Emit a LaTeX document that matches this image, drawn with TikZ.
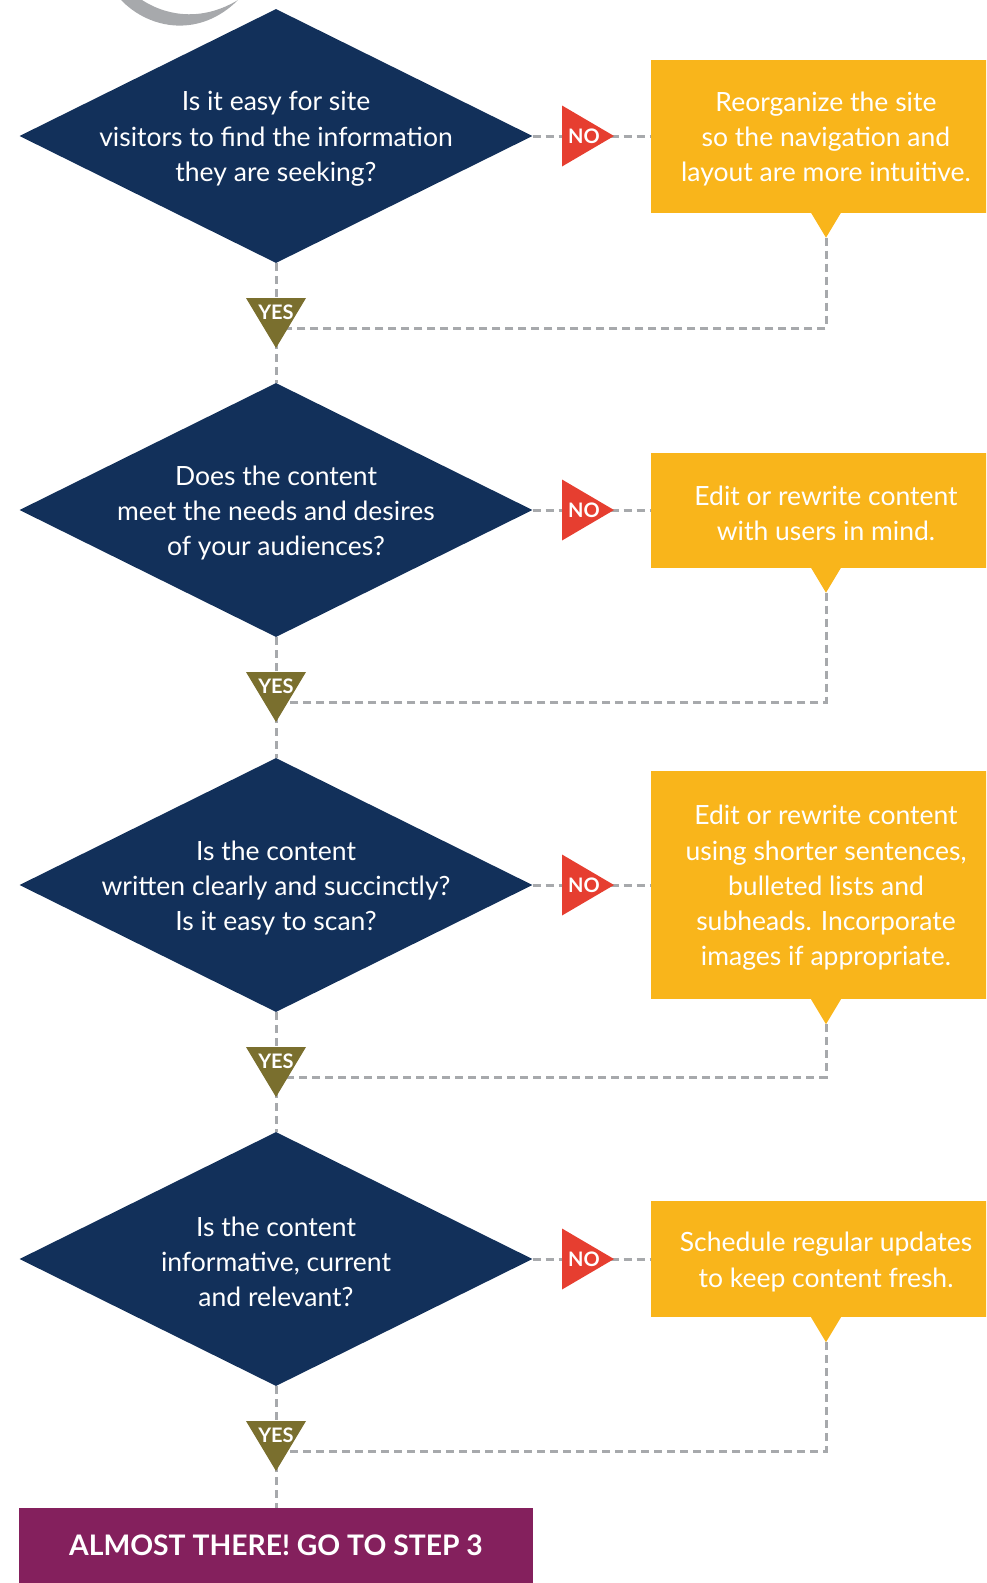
\documentclass[tikz,border=0pt]{standalone}
\usepackage{fontspec}
\setmainfont{Lato}
\usepackage{tikz}
\usetikzlibrary{shapes.geometric,backgrounds,calc}

\definecolor{navy}{HTML}{12305A}
\definecolor{gold}{HTML}{F9B51B}
\definecolor{nored}{HTML}{E63E30}
\definecolor{yesolive}{HTML}{7A6F2E}
\definecolor{plum}{HTML}{84205D}
\definecolor{dashgrey}{HTML}{A7A9AC}

\begin{document}
\begin{tikzpicture}[line cap=butt,line join=round,x=1pt,y=-1pt,
  question/.style={diamond,fill=navy,inner sep=0pt,minimum width=513pt,minimum height=254pt},
  qtext/.style={text=white,align=center,yshift=-3pt,font=\fontsize{26.5}{35.3}\selectfont},
  answer/.style={rectangle,fill=gold,text=white,align=center,inner sep=0pt,minimum width=350pt,font=\fontsize{26.5}{35.3}\selectfont},
  atext/.style={text=white,align=center,yshift=-3pt,font=\fontsize{26.5}{35.3}\selectfont},
  done/.style={rectangle,fill=plum,inner sep=0pt,minimum width=514pt,minimum height=78pt},
  donetext/.style={text=white,inner sep=0pt,font=\bfseries\fontsize{28.3}{32}\selectfont},
  marktext/.style={text=white,inner sep=0pt,font=\bfseries\fontsize{20}{22}\selectfont},
  link/.style={dashgrey,line width=3pt,dash pattern=on 8pt off 5pt}]

\useasboundingbox (0,0) rectangle (986,1583);
\clip (0,0) rectangle (986,1583);

% swoosh at the top
\fill[dashgrey] (121,0) .. controls (150,30) and (200,38) .. (238,0)
  .. controls (205,20) and (170,18) .. (142,0) -- cycle;

% questions
\node[question] (q1) at (276,136) {};
\node[question] (q2) at (276,510) {};
\node[question] (q3) at (276,885) {};
\node[question] (q4) at (276,1259) {};
\node[qtext] (t1) at (q1) {Is it easy for site\\visitors to find the information\\they are seeking?};
\node[qtext] (t2) at (q2) {Does the content\\meet the needs and desires\\of your audiences?};
\node[qtext] (t3) at (q3) {Is the content\\written clearly and succinctly?\\Is it easy to scan?};
\node[qtext] (t4) at (q4) {Is the content\\informative, current\\and relevant?};

% answers
\node[answer,minimum height=153pt] (a1) at (826,136) {};
\node[answer,minimum height=115pt] (a2) at (826,510) {};
\node[answer,minimum height=228pt] (a3) at (826,885) {};
\node[answer,minimum height=116pt] (a4) at (826,1259) {};
\node[atext] (s1) at (a1) {Reorganize the site\\so the navigation and\\layout are more intuitive.};
\node[atext] (s2) at (a2) {Edit or rewrite content\\with users in mind.};
\node[atext] (s3) at (a3) {Edit or rewrite content\\using shorter sentences,\\bulleted lists and\\subheads. Incorporate\\images if appropriate.};
\node[atext] (s4) at (a4) {Schedule regular updates\\to keep content fresh.};

% pointers under the answers
\fill[gold] ($(a1.south)+(-15,0)$) -- ($(a1.south)+(15,0)$) -- ($(a1.south)+(0,25)$) -- cycle;
\fill[gold] ($(a2.south)+(-15,0)$) -- ($(a2.south)+(15,0)$) -- ($(a2.south)+(0,25)$) -- cycle;
\fill[gold] ($(a3.south)+(-15,0)$) -- ($(a3.south)+(15,0)$) -- ($(a3.south)+(0,25)$) -- cycle;
\fill[gold] ($(a4.south)+(-15,0)$) -- ($(a4.south)+(15,0)$) -- ($(a4.south)+(0,25)$) -- cycle;
\coordinate (p1) at ($(a1.south)+(0,25)$);
\coordinate (p2) at ($(a2.south)+(0,25)$);
\coordinate (p3) at ($(a3.south)+(0,25)$);
\coordinate (p4) at ($(a4.south)+(0,25)$);

% last box
\node[done] (done) at (276,1547) {};
\node[donetext] (dt) at (276,1545) {ALMOST THERE! GO TO STEP 3};

% NO marks
\coordinate (n1) at (562,136);
\coordinate (n2) at (562,510);
\coordinate (n3) at (562,885);
\coordinate (n4) at (562,1259);
\fill[nored] ($(n1)+(0,-30.5)$) -- ($(n1)+(52,0)$) -- ($(n1)+(0,30.5)$) -- cycle;
\fill[nored] ($(n2)+(0,-30.5)$) -- ($(n2)+(52,0)$) -- ($(n2)+(0,30.5)$) -- cycle;
\fill[nored] ($(n3)+(0,-30.5)$) -- ($(n3)+(52,0)$) -- ($(n3)+(0,30.5)$) -- cycle;
\fill[nored] ($(n4)+(0,-30.5)$) -- ($(n4)+(52,0)$) -- ($(n4)+(0,30.5)$) -- cycle;
\node[marktext] (no1) at ($(n1)+(22,0)$) {NO};
\node[marktext] (no2) at ($(n2)+(22,0)$) {NO};
\node[marktext] (no3) at ($(n3)+(22,0)$) {NO};
\node[marktext] (no4) at ($(n4)+(22,0)$) {NO};

% YES marks
\coordinate (y1) at (276,298);
\coordinate (y2) at (276,672);
\coordinate (y3) at (276,1047);
\coordinate (y4) at (276,1421);
\fill[yesolive] ($(y1)+(-30,0)$) -- ($(y1)+(30,0)$) -- ($(y1)+(0,50)$) -- cycle;
\fill[yesolive] ($(y2)+(-30,0)$) -- ($(y2)+(30,0)$) -- ($(y2)+(0,50)$) -- cycle;
\fill[yesolive] ($(y3)+(-30,0)$) -- ($(y3)+(30,0)$) -- ($(y3)+(0,50)$) -- cycle;
\fill[yesolive] ($(y4)+(-30,0)$) -- ($(y4)+(30,0)$) -- ($(y4)+(0,50)$) -- cycle;
\node[marktext] (yes1) at ($(y1)+(0,14)$) {YES};
\node[marktext] (yes2) at ($(y2)+(0,14)$) {YES};
\node[marktext] (yes3) at ($(y3)+(0,14)$) {YES};
\node[marktext] (yes4) at ($(y4)+(0,14)$) {YES};
\coordinate (r1) at ($(y1)+(0,30)$);
\coordinate (r2) at ($(y2)+(0,30)$);
\coordinate (r3) at ($(y3)+(0,30)$);
\coordinate (r4) at ($(y4)+(0,30)$);

% dashed links
\begin{scope}[on background layer]
\draw[link] (q1.south) -- (q2.north);
\draw[link] (q2.south) -- (q3.north);
\draw[link] (q3.south) -- (q4.north);
\draw[link] (q4.south) -- (done.north);
\draw[link] (q1.east) -- (a1.west);
\draw[link] (q2.east) -- (a2.west);
\draw[link] (q3.east) -- (a3.west);
\draw[link] (q4.east) -- (a4.west);
\draw[link] (p1) |- (r1);
\draw[link] (p2) |- (r2);
\draw[link] (p3) |- (r3);
\draw[link] (p4) |- (r4);
\end{scope}
\end{tikzpicture}
\end{document}
